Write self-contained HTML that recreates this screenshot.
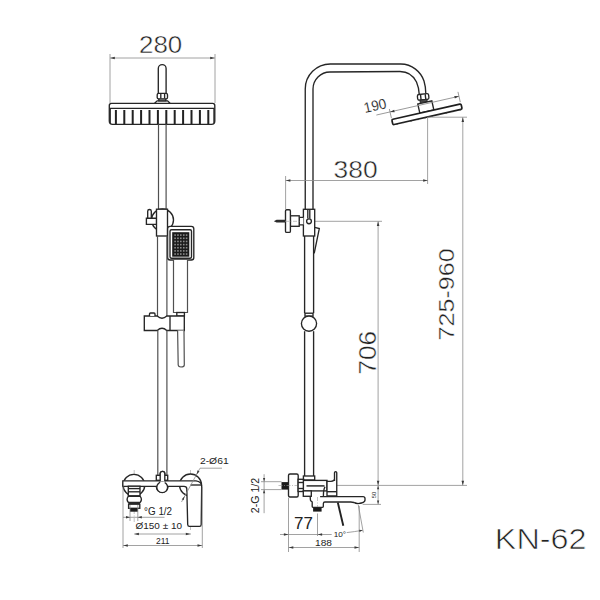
<!DOCTYPE html>
<html><head><meta charset="utf-8"><style>
html,body{margin:0;padding:0;background:#fff;width:600px;height:600px;overflow:hidden}
svg{display:block}
text{font-family:"Liberation Sans",sans-serif}
</style></head><body>
<svg width="600" height="600" viewBox="0 0 600 600">
<rect width="600" height="600" fill="#fff"/>
<text x="139.0" y="52.6" font-size="23.32" fill="#222" text-anchor="start" textLength="43.28" lengthAdjust="spacingAndGlyphs" stroke="#fff" stroke-width="0.45">280</text>
<line x1="110" y1="58" x2="215" y2="58" stroke="#8a8a8a" stroke-width="0.8" fill="none"/>
<path d="M110.30,58.00 L114.80,56.70 L114.80,59.30 Z" fill="#3a3a3a"/>
<path d="M214.70,58.00 L210.20,59.30 L210.20,56.70 Z" fill="#3a3a3a"/>
<line x1="110" y1="54" x2="110" y2="103" stroke="#8a8a8a" stroke-width="0.8" fill="none"/>
<line x1="215" y1="54" x2="215" y2="103" stroke="#8a8a8a" stroke-width="0.8" fill="none"/>
<path d="M158.3,93 L158.3,68.5 A3.9,3.9 0 0 1 166.1,68.5 L166.1,93" stroke="#262626" stroke-width="1.35" fill="#fff"/>
<path d="M154.6,103.3 L157.2,100.8 L167.6,100.8 L170,103.3" stroke="#262626" stroke-width="1.35" fill="#fff"/>
<rect x="158.8" y="98.8" width="7" height="2" rx="0" stroke="#262626" stroke-width="1.35" fill="#fff"/>
<rect x="157.2" y="93.3" width="10.3" height="5.5" rx="1.4" stroke="#262626" stroke-width="1.35" fill="#fff"/>
<line x1="160.8" y1="93.6" x2="160.8" y2="98.5" stroke="#262626" stroke-width="1.35" fill="none"/>
<line x1="164.6" y1="93.6" x2="164.6" y2="98.5" stroke="#262626" stroke-width="1.35" fill="none"/>
<path d="M109.3,105.5 Q109.3,103.3 111.5,103.3 L212.6,103.3 Q214.8,103.3 214.8,105.5 L214.8,121 Q214.8,124.3 211.5,124.3 L112.6,124.3 Q109.3,124.3 109.3,121 Z" stroke="#262626" stroke-width="1.35" fill="#fff"/>
<line x1="109.6" y1="108.3" x2="214.5" y2="108.3" stroke="#262626" stroke-width="1.35" fill="none"/>
<rect x="114.90" y="110" width="2.0" height="14" fill="#222"/>
<rect x="123.30" y="110" width="2.0" height="14" fill="#222"/>
<rect x="131.70" y="110" width="2.0" height="14" fill="#222"/>
<rect x="140.10" y="110" width="2.0" height="14" fill="#222"/>
<rect x="148.50" y="110" width="2.0" height="14" fill="#222"/>
<rect x="156.90" y="110" width="2.0" height="14" fill="#222"/>
<rect x="165.30" y="110" width="2.0" height="14" fill="#222"/>
<rect x="173.70" y="110" width="2.0" height="14" fill="#222"/>
<rect x="182.10" y="110" width="2.0" height="14" fill="#222"/>
<rect x="190.50" y="110" width="2.0" height="14" fill="#222"/>
<rect x="198.90" y="110" width="2.0" height="14" fill="#222"/>
<rect x="207.30" y="110" width="2.0" height="14" fill="#222"/>
<rect x="213.3" y="109" width="1.5" height="14" fill="#2b2b2b"/>
<rect x="109.3" y="109" width="1.6" height="14" fill="#2b2b2b"/>
<line x1="158.5" y1="124.3" x2="158.5" y2="209.2" stroke="#505050" stroke-width="1.2" fill="none"/>
<line x1="166.1" y1="124.3" x2="166.1" y2="209.2" stroke="#505050" stroke-width="1.2" fill="none"/>
<circle cx="162.5" cy="220" r="11" stroke="#262626" stroke-width="1.35" fill="#fff"/>
<path d="M147.7,218.2 L147.7,211.3 A1.8,1.8 0 0 1 151.3,211.3 L151.3,218.2" stroke="#262626" stroke-width="1.35" fill="#fff"/>
<path d="M146.4,218.2 L156.6,218.2 L156.6,224.4 L146.4,224.4 Z" stroke="#262626" stroke-width="1.35" fill="#fff"/>
<rect x="156.5" y="209.2" width="11" height="26.8" rx="0" stroke="#262626" stroke-width="1.35" fill="#fff"/>
<rect x="167.6" y="226.3" width="26.2" height="33.7" rx="2.5" stroke="#262626" stroke-width="1.35" fill="#fff"/>
<rect x="170" y="229.7" width="21.5" height="28.5" rx="1.5" stroke="#262626" stroke-width="1.35" fill="#fff"/>
<rect x="172.2" y="232.2" width="17.1" height="24.5" fill="#1a1a1a"/>
<rect x="174.30" y="234.30" width="1.6" height="1.6" fill="#8a8a8a"/>
<rect x="174.30" y="237.50" width="1.6" height="1.6" fill="#8a8a8a"/>
<rect x="174.30" y="240.65" width="1.6" height="1.6" fill="#8a8a8a"/>
<rect x="174.30" y="243.80" width="1.6" height="1.6" fill="#8a8a8a"/>
<rect x="174.30" y="246.95" width="1.6" height="1.6" fill="#8a8a8a"/>
<rect x="174.30" y="250.10" width="1.6" height="1.6" fill="#8a8a8a"/>
<rect x="174.30" y="253.25" width="1.6" height="1.6" fill="#8a8a8a"/>
<rect x="177.15" y="234.30" width="1.6" height="1.6" fill="#8a8a8a"/>
<rect x="177.15" y="237.50" width="1.6" height="1.6" fill="#8a8a8a"/>
<rect x="177.15" y="240.65" width="1.6" height="1.6" fill="#8a8a8a"/>
<rect x="177.15" y="243.80" width="1.6" height="1.6" fill="#8a8a8a"/>
<rect x="177.15" y="246.95" width="1.6" height="1.6" fill="#8a8a8a"/>
<rect x="177.15" y="250.10" width="1.6" height="1.6" fill="#8a8a8a"/>
<rect x="177.15" y="253.25" width="1.6" height="1.6" fill="#8a8a8a"/>
<rect x="180.00" y="234.30" width="1.6" height="1.6" fill="#8a8a8a"/>
<rect x="180.00" y="237.50" width="1.6" height="1.6" fill="#8a8a8a"/>
<rect x="180.00" y="240.65" width="1.6" height="1.6" fill="#8a8a8a"/>
<rect x="180.00" y="243.80" width="1.6" height="1.6" fill="#8a8a8a"/>
<rect x="180.00" y="246.95" width="1.6" height="1.6" fill="#8a8a8a"/>
<rect x="180.00" y="250.10" width="1.6" height="1.6" fill="#8a8a8a"/>
<rect x="180.00" y="253.25" width="1.6" height="1.6" fill="#8a8a8a"/>
<rect x="182.95" y="234.30" width="1.6" height="1.6" fill="#8a8a8a"/>
<rect x="182.95" y="237.50" width="1.6" height="1.6" fill="#8a8a8a"/>
<rect x="182.95" y="240.65" width="1.6" height="1.6" fill="#8a8a8a"/>
<rect x="182.95" y="243.80" width="1.6" height="1.6" fill="#8a8a8a"/>
<rect x="182.95" y="246.95" width="1.6" height="1.6" fill="#8a8a8a"/>
<rect x="182.95" y="250.10" width="1.6" height="1.6" fill="#8a8a8a"/>
<rect x="182.95" y="253.25" width="1.6" height="1.6" fill="#8a8a8a"/>
<rect x="185.80" y="234.30" width="1.6" height="1.6" fill="#8a8a8a"/>
<rect x="185.80" y="237.50" width="1.6" height="1.6" fill="#8a8a8a"/>
<rect x="185.80" y="240.65" width="1.6" height="1.6" fill="#8a8a8a"/>
<rect x="185.80" y="243.80" width="1.6" height="1.6" fill="#8a8a8a"/>
<rect x="185.80" y="246.95" width="1.6" height="1.6" fill="#8a8a8a"/>
<rect x="185.80" y="250.10" width="1.6" height="1.6" fill="#8a8a8a"/>
<rect x="185.80" y="253.25" width="1.6" height="1.6" fill="#8a8a8a"/>
<path d="M173.5,260 L173.5,312.5 L187.5,312.5 L187.5,260" stroke="#505050" stroke-width="1.2" fill="#fff"/>
<rect x="176.8" y="312.5" width="7.6" height="3.6" rx="0" stroke="#262626" stroke-width="1.35" fill="#fff"/>
<line x1="157.5" y1="236" x2="157.5" y2="316" stroke="#505050" stroke-width="1.2" fill="none"/>
<line x1="166.9" y1="236" x2="166.9" y2="316" stroke="#505050" stroke-width="1.2" fill="none"/>
<path d="M144.3,316 L157.2,316 Q162,320.5 166.8,316 L170,316 L184.3,316 L184.3,330.5 L170,330.5 L166.8,330.5 Q162,326 157.2,330.5 L144.3,330.5 Z" stroke="#262626" stroke-width="1.35" fill="#fff"/>
<line x1="170" y1="316" x2="170" y2="330.5" stroke="#262626" stroke-width="1.35" fill="none"/>
<path d="M149.5,316 L149.5,314 Q149.5,313 150.5,313 L154,313 Q155,313 155,314 L155,316" stroke="#262626" stroke-width="1.35" fill="#fff"/>
<path d="M177.6,330.5 L178.2,365 Q178.5,367 181,367 Q184.3,367 184.3,365 L184,330.5" stroke="#505050" stroke-width="1.2" fill="#fff"/>
<line x1="157.8" y1="330.5" x2="157.8" y2="475.3" stroke="#505050" stroke-width="1.2" fill="none"/>
<line x1="166.9" y1="330.5" x2="166.9" y2="475.3" stroke="#505050" stroke-width="1.2" fill="none"/>
<line x1="134.2" y1="470" x2="134.2" y2="522" stroke="#9a9a9a" stroke-width="0.6" fill="none" stroke-dasharray="4 1.5 1 1.5"/>
<line x1="190.5" y1="470" x2="190.5" y2="530" stroke="#9a9a9a" stroke-width="0.6" fill="none" stroke-dasharray="4 1.5 1 1.5"/>
<circle cx="133.9" cy="485.2" r="10.8" stroke="#262626" stroke-width="1.35" fill="#fff"/>
<circle cx="190.5" cy="485" r="11" stroke="#262626" stroke-width="1.35" fill="#fff"/>
<path d="M122.8,480.8 L196,480.8 Q201.5,481.5 201.7,486 L201.2,524.5 Q201.2,526.4 199.5,526.4 L189.5,526.4 Q187.8,526.4 187.7,524.5 L186.8,489 Q186.8,486.4 184,486.4 L168,486.4 A5.7,5.7 0 1 1 156.3,486.4 L122.8,486.4 Z" stroke="#262626" stroke-width="1.35" fill="#fff"/>
<line x1="190.6" y1="485" x2="201.5" y2="485" stroke="#262626" stroke-width="1.35" fill="none"/>
<path d="M160.2,481.3 L160.2,473.6 A2.3,2.3 0 0 1 164.8,473.6 L164.8,481.3" stroke="#262626" stroke-width="1.35" fill="#fff"/>
<rect x="156.3" y="475.3" width="11.4" height="5" rx="0" stroke="#262626" stroke-width="1.35" fill="#fff"/>
<path d="M160.2,481.5 L160.2,473.6 A2.3,2.3 0 0 1 164.8,473.6 L164.8,481.5" stroke="#262626" stroke-width="1.35" fill="#fff"/>
<circle cx="162.2" cy="487.3" r="5.4" stroke="#262626" stroke-width="1.35" fill="#fff"/>
<path d="M160.3,482.3 L164.7,482.3" stroke="#fff" stroke-width="1.4"/>
<rect x="128.3" y="486.2" width="11.7" height="9.6" rx="0" stroke="#262626" stroke-width="1.35" fill="#fff"/>
<line x1="128.3" y1="488.6" x2="140" y2="488.6" stroke="#262626" stroke-width="1.35" fill="none"/>
<line x1="128.3" y1="491.8" x2="140" y2="491.8" stroke="#262626" stroke-width="1.35" fill="none"/>
<path d="M128.3,496.4 L140.2,496.4 Q142.6,499.4 140.2,502.4 L128.3,502.4 Q125.9,499.4 128.3,496.4 Z" stroke="#262626" stroke-width="1.35" fill="#fff"/>
<rect x="128.4" y="502.2" width="11.6" height="2" fill="#2b2b2b"/>
<rect x="128.6" y="504.2" width="11.2" height="4.1" rx="0" stroke="#262626" stroke-width="1.35" fill="#fff"/>
<rect x="130" y="508.2" width="7.9" height="3.5" fill="#1e1e1e"/>
<text x="199.9" y="463.55" font-size="8.83" fill="#222" text-anchor="start" textLength="28.8" lengthAdjust="spacingAndGlyphs">2-Ø61</text>
<line x1="200" y1="468.2" x2="222" y2="468.2" stroke="#8a8a8a" stroke-width="0.8" fill="none"/>
<line x1="200" y1="468.2" x2="181.5" y2="502" stroke="#8a8a8a" stroke-width="0.8" fill="none"/>
<path d="M196.60,474.40 L197.55,470.36 L199.48,471.42 Z" fill="#3a3a3a"/>
<path d="M184.60,496.30 L183.65,500.34 L181.72,499.28 Z" fill="#3a3a3a"/>
<line x1="123" y1="486.4" x2="123" y2="548" stroke="#8a8a8a" stroke-width="0.8" fill="none"/>
<line x1="202.3" y1="487" x2="202.3" y2="548" stroke="#8a8a8a" stroke-width="0.8" fill="none"/>
<line x1="130" y1="505" x2="130" y2="521" stroke="#8a8a8a" stroke-width="0.8" fill="none"/>
<line x1="137.8" y1="505" x2="137.8" y2="521" stroke="#8a8a8a" stroke-width="0.8" fill="none"/>
<line x1="123" y1="517.3" x2="164.5" y2="517.3" stroke="#8a8a8a" stroke-width="0.8" fill="none"/>
<path d="M130.00,517.30 L126.00,518.60 L126.00,516.00 Z" fill="#3a3a3a"/>
<path d="M137.80,517.30 L141.80,516.00 L141.80,518.60 Z" fill="#3a3a3a"/>
<text x="144.1" y="515.15" font-size="10.08" fill="#222" text-anchor="start" textLength="27.95" lengthAdjust="spacingAndGlyphs">°G 1/2</text>
<text x="135.5" y="529.35" font-size="9.53" fill="#222" text-anchor="start" textLength="46.48" lengthAdjust="spacingAndGlyphs">Ø150 ± 10</text>
<line x1="134.2" y1="534" x2="191" y2="534" stroke="#8a8a8a" stroke-width="0.8" fill="none"/>
<path d="M134.40,534.00 L138.90,532.70 L138.90,535.30 Z" fill="#3a3a3a"/>
<path d="M190.30,534.00 L185.80,535.30 L185.80,532.70 Z" fill="#3a3a3a"/>
<text x="156.0" y="543.75" font-size="9.74" fill="#222" text-anchor="start" textLength="13.6" lengthAdjust="spacingAndGlyphs">211</text>
<line x1="123" y1="545.5" x2="202.3" y2="545.5" stroke="#8a8a8a" stroke-width="0.8" fill="none"/>
<path d="M123.30,545.50 L127.80,544.20 L127.80,546.80 Z" fill="#3a3a3a"/>
<path d="M202.00,545.50 L197.50,546.80 L197.50,544.20 Z" fill="#3a3a3a"/>
<path d="M305.25,209.3 L305.25,89 A25,25 0 0 1 330.25,64 L400.8,64 C412,64 421,72 424,81 C425.5,86 425.8,90 425.8,93.5" stroke="#262626" stroke-width="1.35" fill="none"/>
<path d="M313.0,209.3 L313.0,89 A17,17 0 0 1 330,72 L400,71.5 C407,71.5 413,75 416.5,82 C418,85.5 419,90 419.2,94" stroke="#262626" stroke-width="1.35" fill="none"/>
<g transform="rotate(-6 423.1 97)">
<rect x="417.5" y="94.1" width="11.3" height="5.7" rx="1.6" stroke="#262626" stroke-width="1.35" fill="#fff"/>
<line x1="420.8" y1="94.3" x2="420.8" y2="99.6" stroke="#262626" stroke-width="1.35" fill="none"/><line x1="425.5" y1="94.3" x2="425.5" y2="99.6" stroke="#262626" stroke-width="1.35" fill="none"/>
<rect x="419.8" y="99.8" width="6.8" height="2.2" stroke="#2b2b2b" stroke-width="1.25" fill="#555"/>
</g>
<g transform="translate(427.45 114.2) rotate(-12.8)">
<rect x="-7.2" y="-12.0" width="14.4" height="9.3" stroke="#262626" stroke-width="1.35" fill="#fff"/>
<rect x="-36" y="-2.7" width="71" height="5.4" rx="1.2" stroke="#1e1e1e" stroke-width="1.7" fill="#fff"/>
<rect x="-32.50" y="2.6" width="1.1" height="1.0" fill="#333"/>
<rect x="-25.30" y="2.6" width="1.1" height="1.0" fill="#333"/>
<rect x="-18.10" y="2.6" width="1.1" height="1.0" fill="#333"/>
<rect x="-10.90" y="2.6" width="1.1" height="1.0" fill="#333"/>
<rect x="-3.70" y="2.6" width="1.1" height="1.0" fill="#333"/>
<rect x="3.50" y="2.6" width="1.1" height="1.0" fill="#333"/>
<rect x="10.70" y="2.6" width="1.1" height="1.0" fill="#333"/>
<rect x="17.90" y="2.6" width="1.1" height="1.0" fill="#333"/>
<rect x="25.10" y="2.6" width="1.1" height="1.0" fill="#333"/>
<rect x="32.30" y="2.6" width="1.1" height="1.0" fill="#333"/>
<line x1="-50" y1="-10.5" x2="34.7" y2="-10.5" stroke="#8a8a8a" stroke-width="0.8" fill="none"/>
<line x1="-36" y1="-13.5" x2="-36" y2="-4" stroke="#8a8a8a" stroke-width="0.8" fill="none"/><line x1="34.7" y1="-15" x2="34.7" y2="-4.5" stroke="#8a8a8a" stroke-width="0.8" fill="none"/>
<path d="M-36,-10.5 L-31.5,-11.8 L-31.5,-9.2 Z" fill="#3a3a3a"/><path d="M34.7,-10.5 L30.2,-11.8 L30.2,-9.2 Z" fill="#3a3a3a"/>
<text x="-60.6" y="-15.0" font-size="14.4" fill="#222" textLength="22.8" lengthAdjust="spacingAndGlyphs" stroke="#fff" stroke-width="0.15">190</text>
</g>
<text x="333.55" y="177.5" font-size="23.66" fill="#222" text-anchor="start" textLength="44.02" lengthAdjust="spacingAndGlyphs" stroke="#fff" stroke-width="0.45">380</text>
<line x1="285.6" y1="180.5" x2="428" y2="180.5" stroke="#8a8a8a" stroke-width="0.8" fill="none"/>
<path d="M285.90,180.50 L290.40,179.20 L290.40,181.80 Z" fill="#3a3a3a"/>
<path d="M427.70,180.50 L423.20,181.80 L423.20,179.20 Z" fill="#3a3a3a"/>
<line x1="285.6" y1="176" x2="285.6" y2="209" stroke="#8a8a8a" stroke-width="0.8" fill="none"/>
<line x1="427.6" y1="117" x2="427.6" y2="184" stroke="#8a8a8a" stroke-width="0.8" fill="none"/>
<line x1="427.6" y1="117.2" x2="467" y2="117.2" stroke="#8a8a8a" stroke-width="0.8" fill="none"/>
<line x1="462.8" y1="117.2" x2="462.8" y2="485.5" stroke="#8a8a8a" stroke-width="0.8" fill="none"/>
<path d="M462.80,117.50 L464.10,122.00 L461.50,122.00 Z" fill="#3a3a3a"/>
<path d="M462.80,485.20 L461.50,480.70 L464.10,480.70 Z" fill="#3a3a3a"/>
<text x="453.6" y="340.4" font-size="22.9" fill="#222" text-anchor="start" textLength="92.01" lengthAdjust="spacingAndGlyphs" transform="rotate(-90 453.6 340.4)" stroke="#fff" stroke-width="0.45">725-960</text>
<line x1="314.7" y1="221.3" x2="382" y2="221.3" stroke="#8a8a8a" stroke-width="0.8" fill="none"/>
<line x1="378.1" y1="221.3" x2="378.1" y2="504.4" stroke="#8a8a8a" stroke-width="0.8" fill="none"/>
<path d="M378.10,221.60 L379.40,226.10 L376.80,226.10 Z" fill="#3a3a3a"/>
<path d="M378.10,485.20 L376.80,480.70 L379.40,480.70 Z" fill="#3a3a3a"/>
<text x="375.7" y="374.6" font-size="24.56" fill="#222" text-anchor="start" textLength="43.59" lengthAdjust="spacingAndGlyphs" transform="rotate(-90 375.7 374.6)" stroke="#fff" stroke-width="0.45">706</text>
<line x1="337" y1="485.4" x2="467" y2="485.4" stroke="#8a8a8a" stroke-width="0.8" fill="none"/>
<path d="M378.10,485.80 L379.20,489.30 L377.00,489.30 Z" fill="#3a3a3a"/>
<path d="M378.10,504.10 L377.00,500.60 L379.20,500.60 Z" fill="#3a3a3a"/>
<line x1="362.7" y1="504.4" x2="381" y2="504.4" stroke="#8a8a8a" stroke-width="0.8" fill="none"/>
<text x="375.75" y="498.25" font-size="4.83" fill="#222" text-anchor="start" textLength="6.44" lengthAdjust="spacingAndGlyphs" transform="rotate(-90 375.75 498.25)">50</text>
<line x1="304.6" y1="236" x2="304.6" y2="313.2" stroke="#262626" stroke-width="1.35" fill="none"/>
<line x1="313.6" y1="236" x2="313.6" y2="313.2" stroke="#262626" stroke-width="1.35" fill="none"/>
<rect x="303.4" y="209.3" width="11.3" height="26.7" rx="0" stroke="#262626" stroke-width="1.35" fill="#fff"/>
<circle cx="309" cy="221.3" r="2.4" stroke="#262626" stroke-width="1.35" fill="#fff"/>
<line x1="307.8" y1="210" x2="307.8" y2="218.5" stroke="#262626" stroke-width="1.35" fill="none"/>
<line x1="309.8" y1="210" x2="309.8" y2="218.5" stroke="#262626" stroke-width="1.35" fill="none"/>
<path d="M314.7,227.3 L319.3,228.6 L314.2,253.3" stroke="#262626" stroke-width="1.35" fill="none"/>
<path d="M303.4,217.3 L299.2,217.3 L299.2,224.8 L303.4,224.8" stroke="#262626" stroke-width="1.35" fill="#fff"/>
<rect x="290.4" y="215.8" width="8.8" height="10.5" rx="0" stroke="#262626" stroke-width="1.35" fill="#fff"/>
<rect x="285.5" y="209.7" width="4.9" height="22.7" rx="1.2" stroke="#262626" stroke-width="1.35" fill="#fff"/>
<path d="M273.8,221.2 L276.6,219.8 L285.5,219.8 L285.5,222.6 L276.6,222.6 Z" fill="#2b2b2b"/>
<line x1="285" y1="221.3" x2="300" y2="221.3" stroke="#9a9a9a" stroke-width="0.6" fill="none" stroke-dasharray="4 1.5 1 1.5"/>
<rect x="305" y="313.2" width="8" height="3" rx="0" stroke="#262626" stroke-width="1.35" fill="#fff"/>
<circle cx="309" cy="323.6" r="7.6" stroke="#262626" stroke-width="1.35" fill="#fff"/>
<line x1="304.6" y1="331.2" x2="304.6" y2="476" stroke="#262626" stroke-width="1.35" fill="none"/>
<line x1="313.6" y1="331.2" x2="313.6" y2="476" stroke="#262626" stroke-width="1.35" fill="none"/>
<rect x="303.4" y="476" width="11.3" height="4" rx="0" stroke="#262626" stroke-width="1.35" fill="#fff"/>
<rect x="281.5" y="482.1" width="6.8" height="7.5" fill="#1a1a1a"/>
<rect x="288.5" y="474" width="9.7" height="23" rx="1.5" stroke="#262626" stroke-width="1.35" fill="#fff"/>
<rect x="298.1" y="479.3" width="5.5" height="12.2" rx="0" stroke="#262626" stroke-width="1.35" fill="#fff"/>
<line x1="298.1" y1="482.5" x2="303.6" y2="482.5" stroke="#262626" stroke-width="1.35" fill="none"/>
<line x1="298.1" y1="488.5" x2="303.6" y2="488.5" stroke="#262626" stroke-width="1.35" fill="none"/>
<line x1="278.5" y1="485.5" x2="297" y2="485.5" stroke="#9a9a9a" stroke-width="0.6" fill="none" stroke-dasharray="4 1.5 1 1.5"/>
<path d="M320.1,496.6 L363,496.6 Q365,496.6 365,498.6 L365,500 Q365,502 362,502.8 Q357,504.5 354,502.5 Q352,502 350.8,502 L324.8,502 Q323.5,502 323.4,503.3 L323.3,506.5 Q323.3,507.3 322.5,507.3 L313,507.3 Q312.2,507.3 312.2,506.5 L312.2,502.3 Q312.2,501.6 311.2,501.2 Q310.4,500.8 310.4,499.8 L310.2,496.6" stroke="#262626" stroke-width="1.35" fill="#fff"/>
<path d="M354.4,502.7 Q358,505 362,503.3 L361.8,502.6 Q358,503.6 355,502.3 Z" fill="#1e1e1e"/>
<rect x="313.1" y="507.8" width="8.5" height="3.8" fill="#1a1a1a"/>
<rect x="303.4" y="480.4" width="23.6" height="10.5" rx="0" stroke="#262626" stroke-width="1.35" fill="#fff"/>
<line x1="306.5" y1="485.9" x2="324.5" y2="485.9" stroke="#2b2b2b" stroke-width="1.5"/>
<path d="M325,486.8 Q323.3,490 323.4,496.3" stroke="#262626" stroke-width="1.35" fill="none"/>
<rect x="303.3" y="490.9" width="8" height="5.4" rx="0" stroke="#262626" stroke-width="1.35" fill="#fff"/>
<path d="M334.5,481 L334.5,472.8 A1.1,1.1 0 0 1 336.75,472.8 L336.75,495.8 L327,495.8 L327,481.3 L331,481.3 Q334.5,481 334.5,479" stroke="#262626" stroke-width="1.35" fill="#fff"/>
<line x1="327" y1="491.7" x2="336.75" y2="491.7" stroke="#262626" stroke-width="1.35" fill="none"/>
<line x1="317.5" y1="497" x2="317.5" y2="507" stroke="#9a9a9a" stroke-width="0.6" fill="none" stroke-dasharray="4 1.5 1 1.5"/>
<line x1="317.5" y1="513.5" x2="317.5" y2="536" stroke="#8a8a8a" stroke-width="0.8" fill="none"/>
<line x1="288.5" y1="498" x2="288.5" y2="552" stroke="#8a8a8a" stroke-width="0.8" fill="none"/>
<line x1="359.2" y1="506" x2="359.2" y2="552" stroke="#8a8a8a" stroke-width="0.8" fill="none"/>
<line x1="337.8" y1="502.5" x2="343.3" y2="525.8" stroke="#222" stroke-width="1.9"/>
<line x1="358.3" y1="505" x2="363.3" y2="532.5" stroke="#8a8a8a" stroke-width="0.8" fill="none"/>
<text x="333.7" y="536.7" font-size="7.31" fill="#222" text-anchor="start" textLength="12.43" lengthAdjust="spacingAndGlyphs">10°</text>
<path d="M346.7,532.6 Q354,531.8 362.5,530.3" stroke="#8a8a8a" stroke-width="0.8" fill="none"/>
<path d="M362.80,530.30 L359.50,531.91 L359.18,529.73 Z" fill="#3a3a3a"/>
<line x1="261" y1="481.7" x2="281.5" y2="481.7" stroke="#8a8a8a" stroke-width="0.8" fill="none"/>
<line x1="261" y1="489.6" x2="281.5" y2="489.6" stroke="#8a8a8a" stroke-width="0.8" fill="none"/>
<line x1="264.1" y1="474.2" x2="264.1" y2="513.2" stroke="#8a8a8a" stroke-width="0.8" fill="none"/>
<path d="M264.10,481.50 L263.00,478.00 L265.20,478.00 Z" fill="#3a3a3a"/>
<path d="M264.10,489.80 L265.20,493.30 L263.00,493.30 Z" fill="#3a3a3a"/>
<text x="258.95" y="513.2" font-size="11.06" fill="#222" text-anchor="start" textLength="35.37" lengthAdjust="spacingAndGlyphs" transform="rotate(-90 258.95 513.2)">2-G 1/2</text>
<text x="294.0" y="528.75" font-size="17.04" fill="#222" text-anchor="start" textLength="18.86" lengthAdjust="spacingAndGlyphs">77</text>
<line x1="280" y1="534.5" x2="331.7" y2="534.5" stroke="#8a8a8a" stroke-width="0.8" fill="none"/>
<path d="M288.40,534.50 L283.90,535.80 L283.90,533.20 Z" fill="#3a3a3a"/>
<path d="M317.60,534.50 L322.10,533.20 L322.10,535.80 Z" fill="#3a3a3a"/>
<text x="315.05" y="545.8" font-size="9.55" fill="#222" text-anchor="start" textLength="16.94" lengthAdjust="spacingAndGlyphs">188</text>
<line x1="288.5" y1="547.5" x2="359.2" y2="547.5" stroke="#8a8a8a" stroke-width="0.8" fill="none"/>
<path d="M288.80,547.50 L293.30,546.20 L293.30,548.80 Z" fill="#3a3a3a"/>
<path d="M359.00,547.50 L354.50,548.80 L354.50,546.20 Z" fill="#3a3a3a"/>
<text x="494.8" y="549.2" font-size="29.51" fill="#222" text-anchor="start" textLength="91.78" lengthAdjust="spacingAndGlyphs" stroke="#fff" stroke-width="0.7">KN-62</text>
</svg>
</body></html>
